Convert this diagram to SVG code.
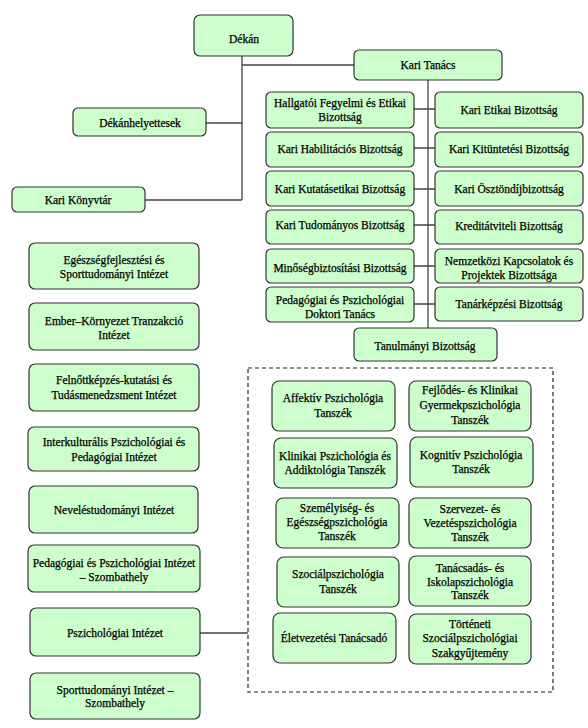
<svg xmlns="http://www.w3.org/2000/svg" width="588" height="728" viewBox="0 0 588 728">
<style>
.b{fill:#ccffcc;stroke:#333333;stroke-width:1.2}
text{font-family:'Liberation Serif','Times New Roman',serif;font-size:11.5px;fill:#000;text-anchor:middle;stroke:#000;stroke-width:0.25}
.c{fill:none;stroke:#444444;stroke-width:1.3}
.d{fill:none;stroke:#222222;stroke-width:1.2;stroke-dasharray:4,3}
</style>
<rect width="588" height="728" fill="#ffffff"/>
<g id="connectors">
<path class="c" d="M242 56V200M242 65H354M206 123H242M145 200H242"/>
<path class="c" d="M428 80V328"/>
<path class="c" d="M414 109H435M414 148H435M414 189H435M414 225H435M414 266H435M414 304H435"/>
<path class="c" d="M200 633H248"/>
</g>
<g id="dashed-group"><rect class="d" x="248" y="368" width="305" height="324"/></g>
<g id="dekan"><rect class="b" x="194" y="15" width="99" height="41" rx="6"/><text x="244" y="43">Dékán</text></g>
<g id="dekanhelyettesek"><rect class="b" x="73" y="108" width="133" height="28" rx="5"/><text x="140" y="127">Dékánhelyettesek</text></g>
<g id="kari-konyvtar"><rect class="b" x="12" y="187" width="133" height="25" rx="5"/><text x="78" y="204">Kari Könyvtár</text></g>
<g id="kari-tanacs"><rect class="b" x="354" y="50" width="148" height="30" rx="5"/><text x="428" y="69">Kari Tanács</text></g>

<g id="hallgatoi"><rect class="b" x="266" y="92" width="148" height="36" rx="5"/><text x="340"><tspan x="340" y="107">Hallgatói Fegyelmi és Etikai</tspan><tspan x="340" y="121">Bizottság</tspan></text></g>
<g id="kari-etikai"><rect class="b" x="435" y="92" width="148" height="36" rx="5"/><text x="509" y="114">Kari Etikai Bizottság</text></g>
<g id="kari-habilitacios"><rect class="b" x="266" y="132" width="148" height="35" rx="5"/><text x="340" y="153">Kari Habilitációs Bizottság</text></g>
<g id="kari-kituntetesi"><rect class="b" x="435" y="132" width="148" height="35" rx="5"/><text x="509" y="153">Kari Kitüntetési Bizottság</text></g>
<g id="kari-kutatasetikai"><rect class="b" x="266" y="171" width="148" height="35" rx="5"/><text x="340" y="193">Kari Kutatásetikai Bizottság</text></g>
<g id="kari-osztondij"><rect class="b" x="435" y="171" width="148" height="35" rx="5"/><text x="509" y="193">Kari Ösztöndíjbizottság</text></g>
<g id="kari-tudomanyos"><rect class="b" x="266" y="210" width="148" height="34" rx="5"/><text x="340" y="229">Kari Tudományos Bizottság</text></g>
<g id="kreditatviteli"><rect class="b" x="435" y="210" width="148" height="34" rx="5"/><text x="509" y="230">Kreditátviteli Bizottság</text></g>
<g id="minosegbiztositasi"><rect class="b" x="266" y="249" width="148" height="34" rx="5"/><text x="340" y="272">Minőségbiztosítási Bizottság</text></g>
<g id="nemzetkozi"><rect class="b" x="435" y="249" width="148" height="34" rx="5"/><text x="509"><tspan x="509" y="265">Nemzetközi Kapcsolatok és</tspan><tspan x="509" y="279">Projektek Bizottsága</tspan></text></g>
<g id="doktori"><rect class="b" x="266" y="287" width="148" height="35" rx="5"/><text x="340"><tspan x="340" y="304">Pedagógiai és Pszichológiai</tspan><tspan x="340" y="318">Doktori Tanács</tspan></text></g>
<g id="tanarkepzesi"><rect class="b" x="435" y="287" width="148" height="34" rx="5"/><text x="509" y="308">Tanárképzési Bizottság</text></g>
<g id="tanulmanyi"><rect class="b" x="354" y="328" width="143" height="33" rx="5"/><text x="425" y="350">Tanulmányi Bizottság</text></g>

<g id="inst-egeszseg"><rect class="b" x="29" y="243" width="170" height="46" rx="6"/><text x="114"><tspan x="114" y="264">Egészségfejlesztési és</tspan><tspan x="114" y="278">Sporttudományi Intézet</tspan></text></g>
<g id="inst-ember"><rect class="b" x="29" y="303" width="170" height="47" rx="6"/><text x="114"><tspan x="114" y="325">Ember–Környezet Tranzakció</tspan><tspan x="114" y="339">Intézet</tspan></text></g>
<g id="inst-felnott"><rect class="b" x="29" y="364" width="170" height="47" rx="6"/><text x="114"><tspan x="114" y="384">Felnőttképzés-kutatási és</tspan><tspan x="114" y="399">Tudásmenedzsment Intézet</tspan></text></g>
<g id="inst-interkulturalis"><rect class="b" x="28" y="427" width="171" height="44" rx="6"/><text x="114"><tspan x="114" y="446">Interkulturális Pszichológiai és</tspan><tspan x="114" y="461">Pedagógiai Intézet</tspan></text></g>
<g id="inst-nevelestudomanyi"><rect class="b" x="29" y="486" width="169" height="47" rx="6"/><text x="114" y="514">Neveléstudományi Intézet</text></g>
<g id="inst-pedpszich-szombathely"><rect class="b" x="28" y="545" width="172" height="47" rx="6"/><text x="114"><tspan x="114" y="567">Pedagógiai és Pszichológiai Intézet</tspan><tspan x="114" y="581">– Szombathely</tspan></text></g>
<g id="inst-pszichologiai"><rect class="b" x="30" y="608" width="170" height="48" rx="6"/><text x="115" y="637">Pszichológiai Intézet</text></g>
<g id="inst-sport-szombathely"><rect class="b" x="30" y="673" width="170" height="46" rx="6"/><text x="115"><tspan x="115" y="694">Sporttudományi Intézet –</tspan><tspan x="115" y="707">Szombathely</tspan></text></g>

<g id="t-affektiv"><rect class="b" x="272" y="381" width="123" height="50" rx="7"/><text x="333"><tspan x="333" y="402">Affektív Pszichológia</tspan><tspan x="333" y="417">Tanszék</tspan></text></g>
<g id="t-fejlodes"><rect class="b" x="409" y="381" width="122" height="50" rx="7"/><text x="470"><tspan x="470" y="394">Fejlődés- és Klinikai</tspan><tspan x="470" y="409">Gyermekpszichológia</tspan><tspan x="470" y="424">Tanszék</tspan></text></g>
<g id="t-klinikai"><rect class="b" x="274" y="438" width="123" height="50" rx="7"/><text x="335"><tspan x="335" y="460">Klinikai Pszichológia és</tspan><tspan x="335" y="474">Addiktológia Tanszék</tspan></text></g>
<g id="t-kognitiv"><rect class="b" x="410" y="437" width="123" height="50" rx="7"/><text x="471"><tspan x="471" y="459">Kognitív Pszichológia</tspan><tspan x="471" y="473">Tanszék</tspan></text></g>
<g id="t-szemelyiseg"><rect class="b" x="276" y="498" width="123" height="50" rx="7"/><text x="337"><tspan x="337" y="512">Személyiség- és</tspan><tspan x="337" y="526">Egészségpszichológia</tspan><tspan x="337" y="540">Tanszék</tspan></text></g>
<g id="t-szervezet"><rect class="b" x="409" y="498" width="122" height="50" rx="7"/><text x="470"><tspan x="470" y="513">Szervezet- és</tspan><tspan x="470" y="527">Vezetéspszichológia</tspan><tspan x="470" y="541">Tanszék</tspan></text></g>
<g id="t-szocial"><rect class="b" x="277" y="557" width="122" height="50" rx="7"/><text x="338"><tspan x="338" y="578">Szociálpszichológia</tspan><tspan x="338" y="593">Tanszék</tspan></text></g>
<g id="t-tanacsadas"><rect class="b" x="409" y="556" width="122" height="50" rx="7"/><text x="470"><tspan x="470" y="572">Tanácsadás- és</tspan><tspan x="470" y="586">Iskolapszichológia</tspan><tspan x="470" y="599">Tanszék</tspan></text></g>
<g id="t-eletvezetesi"><rect class="b" x="273" y="613" width="123" height="50" rx="7"/><text x="334" y="642">Életvezetési Tanácsadó</text></g>
<g id="t-torteneti"><rect class="b" x="409" y="614" width="122" height="50" rx="7"/><text x="470"><tspan x="470" y="628">Történeti</tspan><tspan x="470" y="642">Szociálpszichológiai</tspan><tspan x="470" y="657">Szakgyűjtemény</tspan></text></g>
</svg>
